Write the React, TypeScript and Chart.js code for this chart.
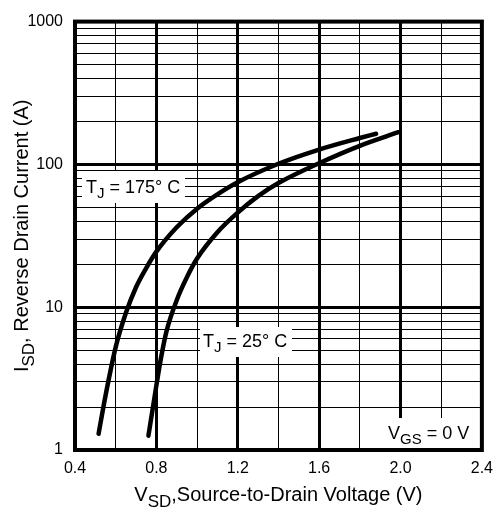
import React, { useEffect, useRef } from "react";
import { Chart, registerables } from "chart.js";

Chart.register(...registerables);

const vsd175 = [0.516, 0.55, 0.6, 0.65, 0.7, 0.75, 0.8, 0.9, 1.0, 1.1, 1.2, 1.4, 1.6, 1.8, 1.88];
const isd175 = [1.3, 2.4, 5.25, 9.1, 13.8, 18.8, 24.5, 36.3, 49, 61.7, 75, 101, 127, 153, 164];
const vsd25 = [0.761, 0.79, 0.82, 0.85, 0.9, 0.95, 1.0, 1.1, 1.2, 1.3, 1.4, 1.6, 1.8, 1.99];
const isd25 = [1.26, 2.3, 4.2, 6.8, 11.2, 16.2, 21.9, 33.5, 46, 60, 74, 102, 135, 168];

const xMin = 0.4;
const xMax = 2.4;
const xStep = 0.2;
const xLabelTicks = ["0.4", "0.8", "1.2", "1.6", "2.0", "2.4"];
const yTickLabels = [1, 10, 100, 1000];

const FONT = "'Liberation Sans', Arial, sans-serif";

type Part = { t: string; sub?: boolean };

function drawParts(ctx: CanvasRenderingContext2D, parts: Part[], x: number, y: number, size: number, align: "left" | "center") {
  const subSize = Math.round(size * 0.85);
  let total = 0;
  const widths = parts.map((p) => {
    ctx.font = `${p.sub ? subSize : size}px ${FONT}`;
    const w = ctx.measureText(p.t).width;
    total += w;
    return w;
  });
  let cx = align === "center" ? x - total / 2 : x;
  ctx.textBaseline = "alphabetic";
  ctx.textAlign = "left";
  ctx.fillStyle = "#000";
  parts.forEach((p, i) => {
    ctx.font = `${p.sub ? subSize : size}px ${FONT}`;
    ctx.fillText(p.t, cx, y + (p.sub ? size * 0.3 : 0));
    cx += widths[i];
  });
}

const overlayPlugin = {
  id: "overlay",
  beforeDatasetsDraw(chart: any) {
    const ctx = chart.ctx as CanvasRenderingContext2D;
    const { chartArea } = chart;
    ctx.save();
    ctx.fillStyle = "#fff";
    ctx.fillRect(82, 171, 103, 32);
    ctx.fillRect(200, 327, 92, 30);
    ctx.fillRect(383, 418, chartArea.right - 383, chartArea.bottom - 418);
    drawParts(ctx, [{ t: "T" }, { t: "J", sub: true }, { t: " = 175° C" }], 86, 193, 18, "left");
    drawParts(ctx, [{ t: "T" }, { t: "J", sub: true }, { t: " = 25° C" }], 203, 347, 18, "left");
    drawParts(ctx, [{ t: "V" }, { t: "GS", sub: true }, { t: " = 0 V" }], 388, 439, 18, "left");
    ctx.restore();
  },
  afterDraw(chart: any) {
    const ctx = chart.ctx as CanvasRenderingContext2D;
    const { left, right, top, bottom } = chart.chartArea;
    ctx.save();
    ctx.strokeStyle = "#000";
    ctx.lineWidth = 4;
    ctx.strokeRect(left, top, right - left, bottom - top);
    drawParts(ctx, [{ t: "V" }, { t: "SD", sub: true }, { t: ",Source-to-Drain Voltage (V)" }], (left + right) / 2, 501, 20, "center");
    ctx.translate(28, (top + bottom) / 2);
    ctx.rotate(-Math.PI / 2);
    drawParts(ctx, [{ t: "I" }, { t: "SD", sub: true }, { t: ", Reverse Drain Current (A)" }], 0, 0, 20, "center");
    ctx.restore();
  },
};

export default function App() {
  const ref = useRef<HTMLCanvasElement>(null);
  useEffect(() => {
    if (!ref.current) return;
    const xTicks: number[] = [];
    for (let i = 0; i <= Math.round((xMax - xMin) / xStep); i++) xTicks.push(Math.round((xMin + i * xStep) * 10) / 10);
    const yTicks: number[] = [];
    for (let d = 1; d < 1000; d *= 10) for (let m = 1; m <= 9; m++) yTicks.push(m * d);
    yTicks.push(1000);
    const isMajorX = (v: number) => Math.round(v * 10) % 4 === 0;
    const lineStyle = { showLine: true, borderColor: "#000", borderWidth: 4.5, pointRadius: 0, cubicInterpolationMode: "monotone", borderCapStyle: "round", borderJoinStyle: "round" };
    const chart = new Chart(ref.current, {
      type: "scatter",
      data: {
        datasets: [
          { data: vsd175.map((x, i) => ({ x, y: isd175[i] })), ...lineStyle } as any,
          { data: vsd25.map((x, i) => ({ x, y: isd25[i] })), ...lineStyle } as any,
        ],
      },
      options: {
        animation: false,
        responsive: false,
        layout: { padding: { top: 13, right: 12, left: 0, bottom: 0 } },
        plugins: { legend: { display: false }, tooltip: { enabled: false } },
        scales: {
          x: {
            type: "linear",
            min: xMin,
            max: xMax,
            afterBuildTicks: (s: any) => { s.ticks = xTicks.map((v) => ({ value: v })); },
            afterFit: (s: any) => { s.height = 62; },
            ticks: {
              color: "#000",
              font: { family: FONT, size: 16 },
              padding: 9,
              maxRotation: 0,
              autoSkip: false,
              callback: (v: any) => { const s = Number(v).toFixed(1); return xLabelTicks.includes(s) ? s : ""; },
            },
            grid: {
              color: "#000",
              drawTicks: false,
              lineWidth: (c: any) => (c.tick && isMajorX(c.tick.value) ? 3 : 1),
            },
            border: { display: false },
          },
          y: {
            type: "logarithmic",
            min: 1,
            max: 1000,
            afterBuildTicks: (s: any) => { s.ticks = yTicks.map((v) => ({ value: v })); },
            afterFit: (s: any) => { s.width = 75; },
            ticks: {
              color: "#000",
              font: { family: FONT, size: 16 },
              padding: 12,
              autoSkip: false,
              callback: (v: any) => (yTickLabels.includes(Number(v)) ? String(v) : ""),
            },
            grid: {
              color: "#000",
              drawTicks: false,
              lineWidth: (c: any) => (c.tick && yTickLabels.includes(c.tick.value) ? 3 : 1),
            },
            border: { display: false },
          },
        },
      },
      plugins: [overlayPlugin],
    });
    return () => chart.destroy();
  }, []);
  return (
    <div style={{ position: "absolute", left: 0, top: 0, width: 502, height: 512, background: "#fff" }}>
      <canvas ref={ref} width={502} height={512} />
    </div>
  );
}
